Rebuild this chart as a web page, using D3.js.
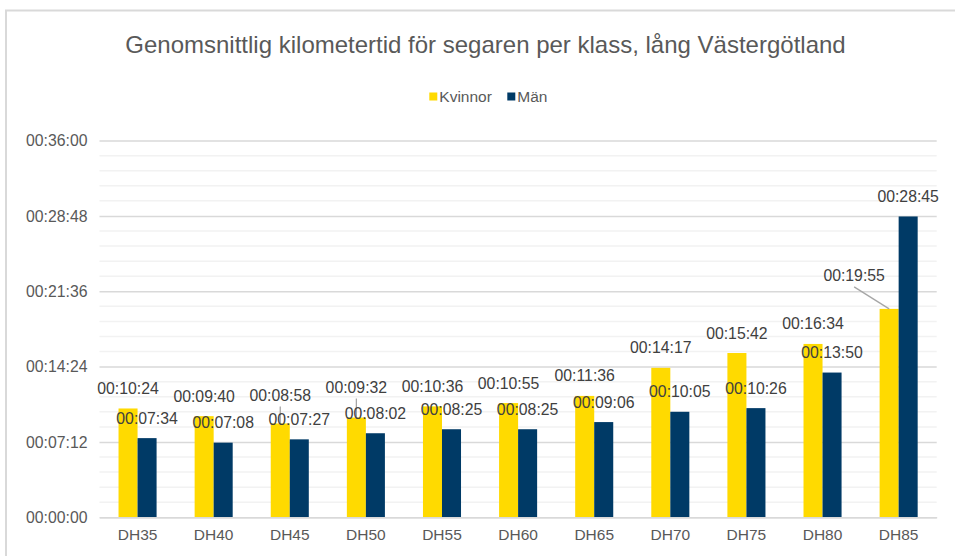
<!DOCTYPE html>
<html>
<head>
<meta charset="utf-8">
<script src="https://cdn.jsdelivr.net/npm/d3@7"></script>
<style>
  html, body { margin: 0; padding: 0; background: #fff; }
  svg { display: block; font-family: "Liberation Sans", Arial, sans-serif; }
</style>
</head>
<body>
<svg id="chart" width="955" height="556"></svg>
<script>
// ---- data ----
const categories = ["DH35","DH40","DH45","DH50","DH55","DH60","DH65","DH70","DH75","DH80","DH85"];
const kvinnor = ["10:24","9:40","8:58","9:32","10:36","10:55","11:36","14:17","15:42","16:34","19:55"];
const man = ["7:34","7:08","7:27","8:02","8:25","8:25","9:06","10:05","10:26","13:50","28:45"];
const seriesNames = ["Kvinnor", "Män"];
const yTickLabels = ["00:00:00","00:07:12","00:14:24","00:21:36","00:28:48","00:36:00"];
const title = "Genomsnittlig kilometertid för segaren per klass, lång Västergötland";

// label nudges (layout only) for Kvinnor labels that were moved in the original
const kvinnorNudge = [[0,0],[0,0],[0,-8],[0,-10],[0,0],[0,0],[0,0],[0,0],[0,0],[0,0],[-35,-13]];

// ---- helpers ----
const toSec = s => { const p = s.split(":").map(Number); return p.length === 2 ? p[0]*60 + p[1] : p[0]*3600 + p[1]*60 + p[2]; };
const pad = n => String(n).padStart(2, "0");
const fmt = sec => pad(Math.floor(sec/3600)) + ":" + pad(Math.floor(sec%3600/60)) + ":" + pad(Math.round(sec%60));

const colors = ["#FFDA00", "#003A66"];
const svg = d3.select("#chart");

// border
svg.append("path").attr("d", "M6,556 V10.5 H955").attr("fill", "none").attr("stroke", "#d9d9d9").attr("stroke-width", 2);

// scales
const yMax = toSec(yTickLabels[yTickLabels.length-1]);
const y = d3.scaleLinear().domain([0, yMax]).range([517.3, 140.6]);
const x = d3.scaleBand().domain(categories).range([99.5, 936.7]).paddingInner(0.5).paddingOuter(0.25);
const xs = d3.scaleBand().domain(seriesNames).range([0, x.bandwidth()]);

// minor gridlines
const majorStep = toSec(yTickLabels[1]);
const minorVals = d3.range(0, yMax + 1, majorStep/5).filter((v,i) => i % 5 !== 0);
svg.append("g").selectAll("line").data(minorVals).join("line")
  .attr("x1", 99.5).attr("x2", 936.7)
  .attr("y1", d => y(d)).attr("y2", d => y(d))
  .attr("stroke", "#f2f2f2").attr("stroke-width", 1.5);

// y axis with major gridlines
const yTickVals = yTickLabels.map(toSec);
const yAxis = d3.axisLeft(y).tickValues(yTickVals).tickFormat(fmt).tickSize(-(936.7-99.5)).tickPadding(12);
const gy = svg.append("g").attr("transform", "translate(99.5,0)").call(yAxis);
gy.select(".domain").remove();
gy.selectAll(".tick line").attr("stroke", "#d9d9d9").attr("stroke-width", 1.5);
gy.selectAll(".tick text").attr("fill", "#595959").attr("font-size", "15.8px")
  .attr("font-family", "Liberation Sans, Arial, sans-serif");

// bars
const data = categories.map((c, i) => ({ cat: c, vals: [toSec("0:" + kvinnor[i]), toSec("0:" + man[i])] }));
const groups = svg.append("g").selectAll("g").data(data).join("g")
  .attr("transform", d => `translate(${x(d.cat)},0)`);
groups.selectAll("rect").data(d => d.vals.map((v, j) => ({ v, s: seriesNames[j], j }))).join("rect")
  .attr("x", d => xs(d.s)).attr("width", xs.bandwidth())
  .attr("y", d => y(d.v)).attr("height", d => y(0) - y(d.v))
  .attr("fill", d => colors[d.j]);

// x axis
const xAxis = d3.axisBottom(x).tickSize(0).tickPadding(12);
const gx = svg.append("g").attr("transform", `translate(0,${y(0)})`).call(xAxis);
gx.select(".domain").attr("stroke", "#d9d9d9").attr("stroke-width", 1.5);
gx.selectAll(".tick text").attr("fill", "#595959").attr("font-size", "15.5px")
  .attr("font-family", "Liberation Sans, Arial, sans-serif");

// leader lines + data labels
const labelG = svg.append("g");
const labels = [];
data.forEach((d, i) => {
  d.vals.forEach((v, j) => {
    const cx = x(d.cat) + xs(seriesNames[j]) + xs.bandwidth()/2;
    const top = y(v);
    const nd = j === 0 ? kvinnorNudge[i] : [0, 0];
    const lx = cx + nd[0], ly = top - 20 + nd[1];
    if (nd[0] !== 0 || nd[1] !== 0) {
      labelG.append("line").attr("x1", lx).attr("y1", ly + 11).attr("x2", cx).attr("y2", top)
        .attr("stroke", "#a6a6a6").attr("stroke-width", 1.3);
    }
    labels.push({ lx, ly, text: fmt(v) });
  });
});
labelG.selectAll("text").data(labels).join("text")
  .attr("x", d => d.lx).attr("y", d => d.ly).attr("dy", "0.35em")
  .attr("text-anchor", "middle").attr("fill", "#404040").attr("font-size", "15.8px")
  .text(d => d.text);

// title
svg.append("text").attr("x", 485.5).attr("y", 45).attr("dy", "0.35em").attr("text-anchor", "middle")
  .attr("fill", "#595959").attr("font-size", "24px").text(title);

// legend
const legend = svg.append("g");
const legendX = [429.3, 507.3];
seriesNames.forEach((n, j) => {
  legend.append("rect").attr("x", legendX[j]).attr("y", 92.5).attr("width", 8).attr("height", 8).attr("fill", colors[j]);
  legend.append("text").attr("x", legendX[j] + 10).attr("y", 96.5).attr("dy", "0.35em")
    .attr("fill", "#595959").attr("font-size", "15.5px").text(n);
});
</script>
</body>
</html>
